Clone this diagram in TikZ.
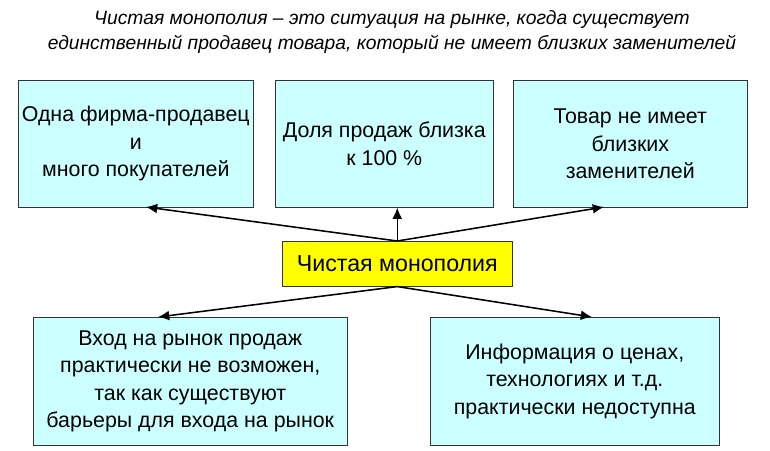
\documentclass[tikz,border=0pt]{standalone}
\usepackage{fontspec}
\setmainfont{Liberation Sans}
\usetikzlibrary{positioning,arrows.meta}
\definecolor{boxfill}{HTML}{CCFFFF}
\definecolor{monofill}{HTML}{FFFF00}
\tikzset{
  feature/.style={draw=black!80, fill=boxfill, align=center, font=\fontsize{15.2}{19.5}\selectfont, inner sep=2pt},
  arr/.style={-{Latex[length=8pt,width=7pt]}, line width=1.1pt}
}
\begin{document}
\begin{tikzpicture}[x=0.025cm, y=-0.025cm]
    % canvas
    \useasboundingbox (0, 0) rectangle (770, 450);

    % title
    \node (title) at (392, 32) [align=center, font=\itshape\fontsize{13.7}{18}\selectfont]
      {Чистая монополия -- это ситуация на рынке, когда существует\\
       единственный продавец товара, который не имеет близких заменителей};

    % top row
    \node (firm) [feature, minimum width=235*0.025cm, minimum height=127*0.025cm, anchor=north west] at (18, 80)
      {Одна фирма-продавец\\и\\много покупателей};
    \node (share) [feature, minimum width=218*0.025cm, minimum height=127*0.025cm, anchor=north west] at (275, 80)
      {Доля продаж близка\\к 100 \%};
    \node (goods) [feature, minimum width=234*0.025cm, minimum height=127*0.025cm, anchor=north west] at (513, 80)
      {Товар не имеет\\близких\\заменителей};

    % center
    \node (mono) [draw=black!80, fill=monofill, minimum width=230*0.025cm, minimum height=45*0.025cm, anchor=north west, font=\fontsize{16.5}{19}\selectfont] at (282, 241)
      {Чистая монополия};

    % bottom row
    \node (entry) [feature, minimum width=314*0.025cm, minimum height=128*0.025cm, anchor=north west] at (33, 317)
      {Вход на рынок продаж\\практически не возможен,\\так как существуют\\барьеры для входа на рынок};
    \node (info) [feature, minimum width=289*0.025cm, minimum height=128*0.025cm, anchor=north west] at (430, 317)
      {Информация о ценах,\\технологиях и т.д.\\практически недоступна};

    % arrow ends
    \coordinate (firm end) at (146, 207);
    \coordinate (share end) at (mono.north |- share.south);
    \coordinate (goods end) at (604, 207);
    \coordinate (entry end) at (158, 317);
    \coordinate (info end) at (592, 317);

    % connectors
    \draw [arr] (mono.north) -- (firm end);
    \draw [arr] (mono.north) -- (share end);
    \draw [arr] (mono.north) -- (goods end);
    \draw [arr] (mono.south) -- (entry end);
    \draw [arr] (mono.south) -- (info end);
\end{tikzpicture}
\end{document}
